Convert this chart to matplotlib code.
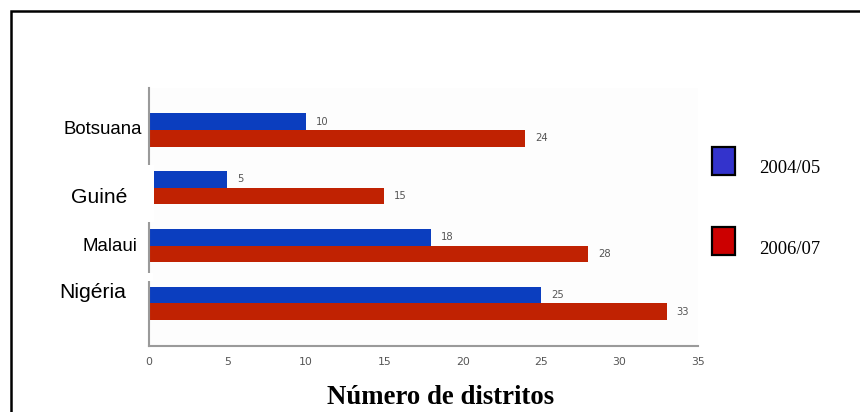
import matplotlib
matplotlib.use("Agg")
import matplotlib.pyplot as plt
from matplotlib.patches import Rectangle
import numpy as np

# Data
countries = ["Botsuana", "Guiné", "Malaui", "Nigéria"]
periods = ["2004/05", "2006/07"]
values_2004_05 = [10, 5, 18, 25]
values_2006_07 = [24, 15, 28, 33]
x_ticks = [0, 5, 10, 15, 20, 25, 30, 35]
x_label = "Número de distritos"

# Styling
W, H, DPI = 860, 412, 100
bar_blue = "#0b3ebf"
bar_red = "#c02202"
legend_blue = "#3333cc"
legend_red = "#cc0000"
axis_grey = "#9a9a9a"

# Per-label font size and offset (pixels) for the country names
label_sizes = [13.4, 15.2, 13.4, 15.2]
label_offsets = [(-7, -4), (-22, -15), (-12, -5.5), (-23, 5.5)]

fig = plt.figure(figsize=(W / DPI, H / DPI), dpi=DPI)
fig.patch.set_facecolor("white")


def px_box(x0, y0, x1, y1):
    """Figure-fraction [left, bottom, width, height] from pixel corners (top-left origin)."""
    return [x0 / W, 1 - y1 / H, (x1 - x0) / W, (y1 - y0) / H]


# Plot area
ax = fig.add_axes(px_box(149, 88, 698, 346))
spacing = 57.8
ax.set_xlim(0, 35)
ax.set_ylim((346 - 130) / spacing, (88 - 130) / spacing)

pos = np.arange(len(countries))
bh = 16.6 / spacing
ax.barh(pos - bh / 2, values_2004_05, height=bh, color=bar_blue, edgecolor="none")
ax.barh(pos + bh / 2, values_2006_07, height=bh, color=bar_red, edgecolor="none")

for i, (a, b) in enumerate(zip(values_2004_05, values_2006_07)):
    ax.annotate(str(a), xy=(a, i - bh / 2), xytext=(10, 0), textcoords="offset pixels",
                ha="left", va="center", fontsize=7.2, color="#555555",
                family="DejaVu Sans")
    ax.annotate(str(b), xy=(b, i + bh / 2), xytext=(10, 0), textcoords="offset pixels",
                ha="left", va="center", fontsize=7.2, color="#555555",
                family="DejaVu Sans")

for i, (name, fs, (dx, dy)) in enumerate(zip(countries, label_sizes, label_offsets)):
    ax.annotate(name, xy=(0, i), xytext=(dx, dy), textcoords="offset pixels",
                ha="right", va="baseline", fontsize=fs, family="Liberation Sans",
                color="black", annotation_clip=False)

ax.set_xticks(x_ticks)
ax.set_xticklabels([str(t) for t in x_ticks], fontsize=7.8, color="#555555",
                   family="DejaVu Sans")
ax.tick_params(axis="x", length=0, pad=8)
ax.set_yticks([])
for s in ["top", "right"]:
    ax.spines[s].set_visible(False)
for s in ["left", "bottom"]:
    ax.spines[s].set_color(axis_grey)
    ax.spines[s].set_linewidth(1.5)
ax.set_facecolor("#fdfdfd")

# Breaks in the vertical axis line
for (x0, y0, x1, y1) in [(144, 165, 154, 172.5), (144, 172.5, 153.5, 222),
                         (144, 272.5, 153, 280.5)]:
    fig.patches.append(Rectangle((x0 / W, 1 - y1 / H), (x1 - x0) / W, (y1 - y0) / H,
                                 transform=fig.transFigure, facecolor="white",
                                 edgecolor="none", zorder=5))

# Axis title
fig.text(441 / W, 1 - 397 / H, x_label, ha="center", va="center",
         fontsize=19.3, fontweight="bold", family="Liberation Serif")

# Legend
for (y0, y1), col, lab, ty in [((147, 175), legend_blue, periods[0], 168.5),
                               ((227, 255), legend_red, periods[1], 250)]:
    fig.patches.append(Rectangle((712 / W, 1 - y1 / H), 23 / W, (y1 - y0) / H,
                                 transform=fig.transFigure, facecolor=col,
                                 edgecolor="black", linewidth=1.6, zorder=6))
    fig.text(759 / W, 1 - ty / H, lab, ha="left", va="center",
             fontsize=13.4, family="Liberation Serif")

# Frame around the figure content
fig.patches.append(Rectangle((10.5 / W, -0.1), 2, 1 - 11 / H + 0.1,
                             transform=fig.transFigure, facecolor="none",
                             edgecolor="black", linewidth=1.8, zorder=7))

fig.savefig("out.png", dpi=DPI, facecolor="white")
